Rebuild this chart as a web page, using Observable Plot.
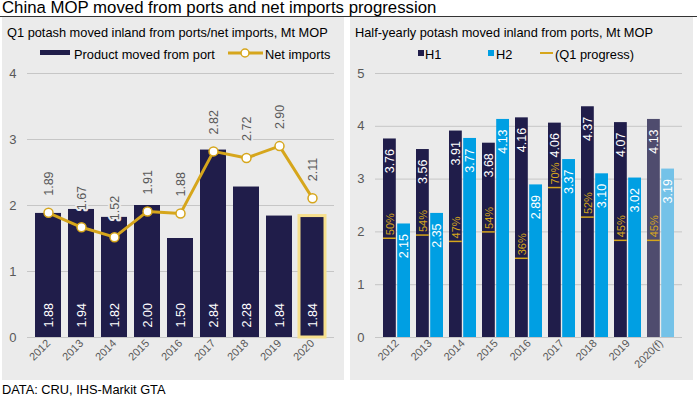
<!DOCTYPE html>
<html>
<head>
<meta charset="utf-8">
<script src="https://cdn.jsdelivr.net/npm/d3@7"></script>
<script src="https://cdn.jsdelivr.net/npm/@observablehq/plot@0.6"></script>
<style>
  html, body { margin:0; padding:0; background:#fff; }
  body { width:697px; height:397px; position:relative; overflow:hidden; font-family:"Liberation Sans", Arial, sans-serif; color:#000; }
  #title { position:absolute; left:0; top:0; width:697px; height:16px; border-bottom:1px solid #333; }
  #title span { position:absolute; left:2px; top:0px; font-size:16.8px; line-height:16px; white-space:nowrap; }
  .panel { position:absolute; top:17px; height:363px; background:#ebebeb; }
  #p1 { left:2px; width:342px; }
  #p2 { left:350px; width:343px; }
  .sub { position:absolute; left:5px; top:8px; font-size:12.8px; line-height:15px; white-space:nowrap; }
  .leg { position:absolute; top:30px; height:15px; font-size:12.8px; line-height:15px; white-space:nowrap; }
  .sw { position:absolute; }
  .chart { position:absolute; left:0; top:46px; }
  #cap { position:absolute; left:2px; top:382px; font-size:12.8px; line-height:15px; white-space:nowrap; }
</style>
</head>
<body>
<div id="title"><span>China MOP moved from ports and net imports progression</span></div>
<div class="panel" id="p1">
  <div class="sub">Q1 potash moved inland from ports/net imports, Mt MOP</div>
  <div class="sw" style="left:38px;top:33px;width:30px;height:5px;background:#201d4a"></div>
  <div class="leg" style="left:72px">Product moved from port</div>
  <svg class="sw" style="left:225px;top:29px" width="38" height="14">
    <line x1="1" y1="7" x2="36" y2="7" stroke="#d6a61c" stroke-width="3"></line>
    <circle cx="18" cy="7" r="4" fill="#fff" stroke="#d6a61c" stroke-width="1.5"></circle>
  </svg>
  <div class="leg" style="left:263px">Net imports</div>
  <div class="chart" id="c1"></div>
</div>
<div class="panel" id="p2">
  <div class="sub">Half-yearly potash moved inland from ports, Mt MOP</div>
  <div class="sw" style="left:68px;top:33px;width:6px;height:6px;background:#201d4a"></div>
  <div class="leg" style="left:75px">H1</div>
  <div class="sw" style="left:138px;top:33px;width:6px;height:6px;background:#009fe3"></div>
  <div class="leg" style="left:146px">H2</div>
  <div class="sw" style="left:190px;top:35px;width:13px;height:2px;background:#d6a61c"></div>
  <div class="leg" style="left:205px">(Q1 progress)</div>
  <div class="chart" id="c2"></div>
</div>
<div id="cap">DATA: CRU, IHS-Markit GTA</div>
<script>
// ---- data ----
const years = ["2012","2013","2014","2015","2016","2017","2018","2019","2020"];
const movedFromPort = [1.88, 1.94, 1.82, 2.00, 1.50, 2.84, 2.28, 1.84, 1.84];
const netImports = [1.89, 1.67, 1.52, 1.91, 1.88, 2.82, 2.72, 2.90, 2.11];
const halfYears = ["2012","2013","2014","2015","2016","2017","2018","2019","2020(f)"];
const h1 = [3.76, 3.56, 3.91, 3.68, 4.16, 4.06, 4.37, 4.07, 4.13];
const h2 = [2.15, 2.35, 3.77, 4.13, 2.89, 3.37, 3.10, 3.02, 3.19];
const q1Progress = [50, 54, 47, 54, 36, 70, 52, 45, 45];
const leftTicks = [0, 1, 2, 3, 4];
const rightTicks = [0, 1, 2, 3, 4, 5];

const NAVY = "#201d4a", NAVY_F = "#4f4c6e", BLUE = "#009fe3", BLUE_F = "#74c2e8", GOLD = "#d6a61c";
const GRID = "#c6c6c6", BG = "#ebebeb", TXT = "#595959";
const FONT = "Liberation Sans, Arial, sans-serif";

const leftData = years.map((y, i) => ({year: y, moved: movedFromPort[i], net: netImports[i]}));
const rightData = halfYears.map((y, i) => ({year: y, h1: h1[i], h2: h2[i], q1: movedFromPort[i], pct: q1Progress[i], fc: i === halfYears.length - 1}));

function yAxis(ticks) {
  return Plot.axisY(ticks, {tickSize: 0, tickPadding: 11, tickFormat: d => String(d), fontSize: 13, fill: TXT, label: null});
}
function xAxis() {
  return Plot.axisX({tickRotate: -45, tickSize: 0, tickPadding: 4, fontSize: 11, fill: TXT, label: null});
}

const c1 = Plot.plot({
  width: 342, height: 317, marginTop: 10, marginBottom: 43, marginLeft: 25, marginRight: 10,
  style: {background: "transparent", fontFamily: FONT, fontSize: "12px", color: TXT},
  x: {domain: years, padding: 0.21},
  y: {domain: [0, 4]},
  marks: [
    Plot.ruleY(leftTicks, {stroke: GRID, strokeWidth: 1}),
    yAxis(leftTicks),
    xAxis(),
    Plot.barY(leftData, {x: "year", y: "moved", fill: NAVY}),
    Plot.barY(leftData.filter(d => d.year === "2020"), {x: "year", y: "moved", fill: "none", stroke: "#f6df8d", strokeWidth: 3}),
    Plot.text(leftData, {x: "year", y: 0, text: d => d.moved.toFixed(2), rotate: -90, textAnchor: "start", dy: -10, fill: "white", fontSize: 12.5}),
    Plot.text(leftData, {x: "year", y: "net", text: d => d.net.toFixed(2), rotate: -90, textAnchor: "start", dy: -17, fill: TXT, stroke: BG, strokeWidth: 4, fontSize: 12.5}),
    Plot.line(leftData, {x: "year", y: "net", stroke: GOLD, strokeWidth: 3}),
    Plot.dot(leftData, {x: "year", y: "net", r: 4.5, fill: "white", stroke: GOLD, strokeWidth: 1.5})
  ]
});
document.getElementById("c1").appendChild(c1);

const HALF = 14.2;
const c2 = Plot.plot({
  width: 343, height: 317, marginTop: 10, marginBottom: 43, marginLeft: 25, marginRight: 11,
  style: {background: "transparent", fontFamily: FONT, fontSize: "12px", color: TXT},
  x: {domain: halfYears, padding: 0.18},
  y: {domain: [0, 5]},
  marks: [
    Plot.ruleY(rightTicks, {stroke: GRID, strokeWidth: 1}),
    yAxis(rightTicks),
    xAxis(),
    Plot.barY(rightData, {x: "year", y: "h1", fill: d => d.fc ? NAVY_F : NAVY, insetRight: HALF}),
    Plot.barY(rightData, {x: "year", y: "h2", fill: d => d.fc ? BLUE_F : BLUE, insetLeft: HALF}),
    Plot.text(rightData, {x: "year", y: "h1", text: d => d.h1.toFixed(2), rotate: -90, textAnchor: "end", dx: -7, dy: 10, fill: "white", fontSize: 12.5}),
    Plot.text(rightData, {x: "year", y: "h2", text: d => d.h2.toFixed(2), rotate: -90, textAnchor: "end", dx: 7, dy: 10, fill: "white", fontSize: 12.5}),
    Plot.tickY(rightData, {x: "year", y: "q1", stroke: GOLD, strokeWidth: 1.5, insetRight: HALF}),
    Plot.text(rightData, {x: "year", y: "q1", text: d => d.pct + "%", rotate: -90, textAnchor: "start", dx: -7, dy: -3, fill: GOLD, fontSize: 11})
  ]
});
document.getElementById("c2").appendChild(c2);
</script>
</body>
</html>
